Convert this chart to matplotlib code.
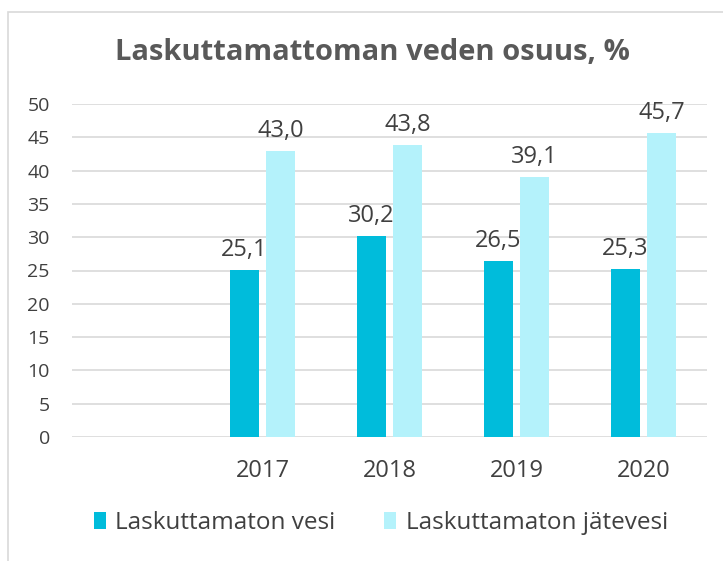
import matplotlib.pyplot as plt
from matplotlib.patches import Rectangle
import numpy as np

plt.rcParams['font.family'] = ['Open Sans', 'DejaVu Sans']

years = ["", "2017", "2018", "2019", "2020"]
vesi = [np.nan, 25.1, 30.2, 26.5, 25.3]
jatevesi = [np.nan, 43.0, 43.8, 39.1, 45.7]
series_names = ["Laskuttamaton vesi", "Laskuttamaton jätevesi"]

dark = "#00BCDB"
light = "#B4F2FB"
text_col = "#404040"

fig = plt.figure(figsize=(7.23, 5.61), dpi=100)
fig.patches.append(Rectangle((8 / 723, -0.1), 1.2, 1 - 12 / 561 + 0.1,
                             transform=fig.transFigure, fill=False,
                             edgecolor="#D9D9D9", linewidth=1.2))

ax = fig.add_axes([72 / 723, 1 - 437 / 561, 635 / 723, 333 / 561])

x = np.arange(len(years))
w = 0.228
off = 0.143
b1 = ax.bar(x - off, vesi, w, color=dark, label=series_names[0], zorder=3)
b2 = ax.bar(x + off, jatevesi, w, color=light, label=series_names[1], zorder=3)

for bars, vals in ((b1, vesi), (b2, jatevesi)):
    for rect, v in zip(bars, vals):
        if np.isnan(v):
            continue
        ax.text(rect.get_x() + rect.get_width() / 2, v + 1.2,
                ("%.1f" % v).replace(".", ","), ha="center", va="bottom",
                fontsize=17, color=text_col)

ax.set_xlim(-0.5, 4.5)
ax.set_ylim(0, 50)
ax.set_yticks(np.arange(0, 51, 5))
ax.set_xticks(x)
ax.set_xticklabels(years)
ax.tick_params(axis="y", length=0, pad=16, labelsize=14, labelcolor=text_col)
ax.tick_params(axis="x", length=0, pad=16, labelsize=17, labelcolor=text_col)
ax.grid(axis="y", color="#D9D9D9", linewidth=1.2, zorder=0)
for s in ax.spines.values():
    s.set_visible(False)

fig.text(372 / 723, 1 - 52 / 561, "Laskuttamattoman veden osuus, %",
         ha="center", va="center", fontsize=21, fontweight="bold",
         color="#595959")

fig.legend(loc="center", bbox_to_anchor=(381 / 723, 1 - 523 / 561), ncol=2,
           frameon=False, fontsize=17.5, handlelength=0.5, handleheight=0.75,
           handletextpad=0.4, columnspacing=2.0, labelcolor=text_col)

plt.savefig("out.png", dpi=100)
plt.close()
